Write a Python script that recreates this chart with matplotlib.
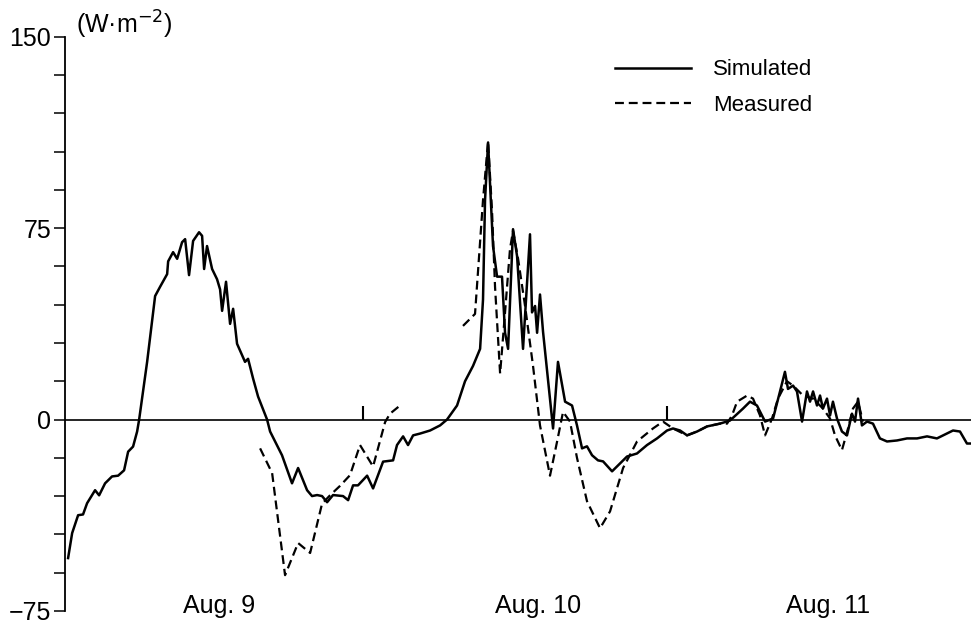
import matplotlib
matplotlib.use("Agg")
import matplotlib.pyplot as plt
import matplotlib.transforms as mtransforms

# hours since Aug 9 00:00 and flux in W m-2
sim_hours = [0.71, 1.03, 1.50, 1.89, 2.21, 2.84, 3.16, 3.63, 4.18, 4.66, 5.13, 5.45,
             5.84, 6.16, 6.32, 6.95, 7.58, 7.97, 8.53, 8.61, 9.00, 9.32, 9.71, 9.95,
             10.26, 10.58, 11.05, 11.29, 11.45, 11.68, 12.08, 12.47, 12.71, 12.87, 13.18,
             13.50, 13.74, 14.05, 14.68, 14.92, 15.32, 15.71, 16.42, 16.66, 17.60, 18.39,
             18.87, 19.58, 19.97, 20.37, 20.76, 21.16, 21.63, 22.42, 22.82, 23.21, 23.60,
             24.32, 24.79, 25.58, 26.37, 26.68, 27.16, 27.55, 27.95, 28.50, 29.29, 30.08,
             30.63, 31.42, 32.05, 32.68, 33.24, 33.47, 33.63, 33.87, 34.26, 34.58, 34.97,
             35.21, 35.45, 35.84, 36.16, 36.63, 37.18, 37.34, 37.58, 37.74, 37.97, 38.21,
             39.00, 39.39, 39.95, 40.50, 40.89, 41.29, 41.68, 42.08, 42.55, 42.95, 43.66,
             44.29, 44.84, 45.63, 46.42, 47.21, 48.00, 48.47, 49.03, 49.58, 50.37, 51.16,
             52.18, 52.97, 54.00, 54.55, 55.10, 55.50, 55.74, 56.37, 56.92, 57.31, 57.55,
             57.95, 58.26, 58.66, 59.05, 59.29, 59.53, 59.84, 60.08, 60.31, 60.63, 60.87,
             61.10, 61.42, 61.81, 62.21, 62.60, 62.84, 63.08, 63.39, 63.79, 64.26, 64.81,
             65.37, 66.16, 66.95, 67.74, 68.53, 69.31, 70.58, 71.13, 71.68, 72.00]
simulated = [-54.3, -44.5, -37.5, -37.2, -32.8, -27.7, -29.7, -25.0, -22.3, -22.0, -19.9, -12.6,
             -10.6, -4.7, 0.0, 22.6, 48.4, 52.0, 57.0, 62.0, 65.6, 63.0, 69.5, 70.7,
             56.6, 70.0, 73.4, 72.0, 59.0, 68.0, 59.0, 55.0, 51.0, 42.6, 54.0,
             37.5, 43.4, 29.7, 22.6, 23.8, 16.0, 9.0, 0.0, -4.7, -14.0, -25.0,
             -19.0, -27.7, -30.0, -29.6, -30.0, -32.4, -29.6, -30.0, -31.6, -25.8, -25.8,
             -22.0, -27.0, -16.5, -16.0, -10.0, -6.6, -10.0, -6.2, -5.5, -4.3, -2.3,
             0.0, 5.5, 15.0, 21.0, 27.7, 47.0, 86.0, 108.6, 68.0, 56.0, 56.0,
             34.0, 27.7, 74.6, 64.0, 27.7, 72.6, 42.0, 44.5, 34.0, 49.0, 34.4,
             -3.5, 22.6, 7.0, 5.5, -2.3, -11.3, -10.5, -14.0, -16.0, -16.4, -20.3,
             -17.2, -14.5, -13.3, -10.0, -7.4, -4.3, -3.5, -4.3, -6.2, -4.7, -2.7,
             -1.6, -0.4, 4.3, 7.0, 5.5, 1.6, -0.8, 0.4, 11.0, 18.7, 12.0,
             13.3, 11.0, -0.8, 11.0, 7.0, 11.0, 5.5, 9.4, 4.3, 8.2, 1.6,
             7.0, 0.4, -4.7, -6.2, 2.3, -0.8, 8.2, -2.3, -0.8, -1.6, -7.4,
             -8.6, -8.2, -7.4, -7.4, -6.6, -7.4, -4.3, -4.7, -9.4, -9.4]

# measured series has a gap (two separate pieces)
meas1_hours = [15.87, 16.82, 17.84, 18.87, 19.82, 20.76, 21.39, 22.18, 22.97, 23.76,
               24.79, 25.74, 26.13, 26.92]
measured1 = [-11.3, -21.0, -61.0, -48.4, -52.3, -33.0, -29.7, -26.0, -21.8, -10.0,
             -18.4, -1.0, 2.3, 5.5]
meas2_hours = [31.89, 32.84, 33.47, 33.87, 34.18, 34.42, 34.82, 35.21, 35.60, 35.84,
               36.24, 36.79, 37.42, 37.97, 38.76, 39.32, 39.79, 40.34, 40.89, 41.68,
               42.71, 43.50, 44.53, 45.63, 46.89, 47.68, 48.47, 49.58, 50.37, 51.16,
               52.18, 52.74, 53.13, 53.53, 54.32, 54.79, 55.34, 55.74, 56.29, 56.76,
               57.47, 57.95, 58.74, 59.53, 60.31, 60.87, 61.26, 61.81, 62.29, 62.68,
               63.08, 63.47]
measured2 = [36.7, 41.4, 86.0, 109.0, 82.0, 52.0, 18.0, 42.0, 66.8, 74.0,
             63.0, 44.5, 21.0, -2.3, -22.0, -8.6, 3.0, -0.8, -15.0, -32.0,
             -42.6, -36.0, -19.0, -8.6, -3.5, -0.8, -3.5, -6.2, -4.7, -2.7,
             -1.6, -1.6, 1.6, 7.0, 9.4, 8.2, 1.6, -6.2, 0.4, 8.2,
             15.0, 13.3, 9.4, 8.2, 4.3, 0.4, -6.2, -12.0, -3.5, 4.3,
             7.0, -0.8]

day_marks = [24, 48]
day_labels = ["Aug. 9", "Aug. 10", "Aug. 11"]
day_label_pos = [12.6, 37.8, 60.7]

plt.rcParams['font.family'] = ['Liberation Sans', 'DejaVu Sans']

fig = plt.figure(figsize=(9.71, 6.24), dpi=100)
ax = fig.add_axes([0.067, 0.021, 0.933, 0.92])

dash = (0, (4, 2.2))
ax.plot(sim_hours, simulated, color="black", lw=1.8, label="Simulated")
ax.plot(meas1_hours, measured1, color="black", lw=1.6, linestyle=dash, label="Measured")
ax.plot(meas2_hours, measured2, color="black", lw=1.6, linestyle=dash)

# zero line with small day marks
ax.axhline(0, color="black", lw=1.2)
ax.vlines(day_marks, 0, 5.5, color="black", lw=1.5)

ax.set_xlim(0.47, 72)
ax.set_ylim(-75, 150)
ax.set_yticks([-75, 0, 75, 150])
ax.set_yticklabels(["\u221275", "0", "75", "150"])
ax.set_yticks(range(-75, 151, 15), minor=True)
ax.tick_params(axis="y", which="both", direction="out", length=8, width=1.1, labelsize=18, pad=2)
ax.set_xticks([])

for s in ["top", "right", "bottom"]:
    ax.spines[s].set_visible(False)
ax.spines["left"].set_linewidth(1.3)

trans = mtransforms.blended_transform_factory(ax.transData, ax.transAxes)
for pos, lab in zip(day_label_pos, day_labels):
    ax.text(pos, -0.004, lab, transform=trans, ha="center", va="baseline",
            fontsize=18, clip_on=False)

ax.text(0.012, 1.006, "(W\u00b7m$^{-2}$)", transform=ax.transAxes, ha="left",
        va="baseline", fontsize=18)

leg = ax.legend(loc="upper left", bbox_to_anchor=(0.613, 0.937), bbox_transform=fig.transFigure,
                frameon=False, fontsize=16, handlelength=3.4, handletextpad=1.0,
                labelspacing=0.65)

fig.savefig("out.png", dpi=100)
